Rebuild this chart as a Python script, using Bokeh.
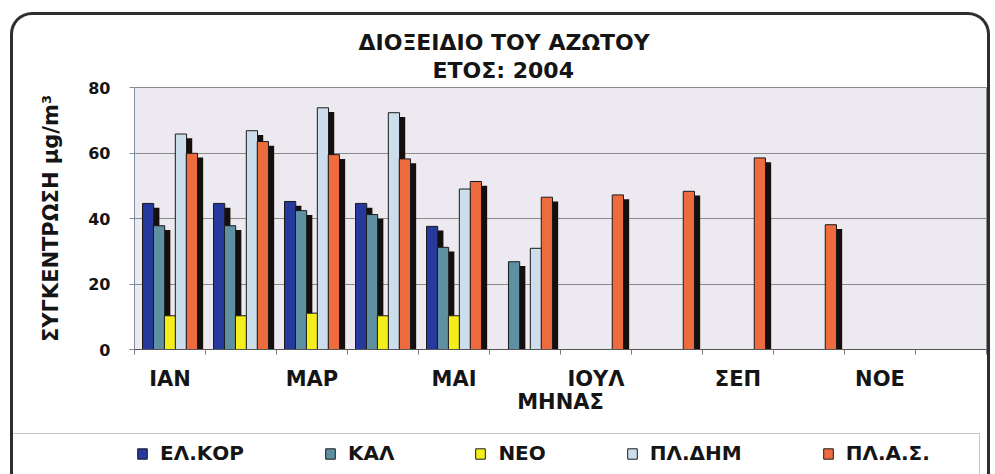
import math
from bokeh.plotting import figure
from bokeh.layouts import column
from bokeh.models import (ColumnDataSource, Range1d, FixedTicker, Legend, LegendItem,
                          Title, InlineStyleSheet)
from bokeh.embed import file_html
from bokeh.resources import INLINE

nan = float("nan")

# ---------------- data ----------------
months = ["ΙΑΝ", "ΦΕΒ", "ΜΑΡ", "ΑΠΡ", "ΜΑΙ", "ΙΟΥΝ", "ΙΟΥΛ", "ΑΥΓ", "ΣΕΠ", "ΟΚΤ", "ΝΟΕ", "ΔΕΚ"]
series_names = ["ΕΛ.ΚΟΡ", "ΚΑΛ", "ΝΕΟ", "ΠΛ.ΔΗΜ", "ΠΛ.Α.Σ."]
el_kor = [44.6, 44.6, 45.2, 44.6, 37.6, nan, nan, nan, nan, nan, nan, nan]
kal    = [37.8, 37.8, 42.4, 41.2, 31.2, 26.8, nan, nan, nan, nan, nan, nan]
neo    = [10.3, 10.3, 11.1, 10.3, 10.3, nan, nan, nan, nan, nan, nan, nan]
pl_dim = [65.8, 66.8, 73.8, 72.3, 49.0, 30.9, nan, nan, nan, nan, nan, nan]
pl_as  = [59.9, 63.5, 59.5, 58.2, 51.3, 46.5, 47.2, 48.3, 58.5, 38.1, nan, nan]
y_ticks = [0, 20, 40, 60, 80]

title_1 = "ΔΙΟΞΕΙΔΙΟ ΤΟΥ ΑΖΩΤΟΥ"
title_2 = "ΕΤΟΣ: 2004"
x_title = "ΜΗΝΑΣ"
y_title = "ΣΥΓΚΕΝΤΡΩΣΗ μg/m³"

# ---------------- style ----------------
colors = ["#26399C", "#5E90A2", "#F4EE1A", "#CCDDEB", "#EE6B3E"]
FONT = "DejaVu Sans"
TXT = "#151515"
pitch = 0.154
bar_w = 0.158
shadow_dx = 0.08
shadow_dy = 1.3

n = len(months)
centers = [i + 0.5 for i in range(n)]          # month slot centres on the x scale
all_series = [el_kor, kal, neo, pl_dim, pl_as]
data = {"xc": centers}
for i, s in enumerate(all_series):
    off = (i - 2) * pitch
    data[f"x{i}"] = [c + off for c in centers]
    data[f"xs{i}"] = [c + off + shadow_dx for c in centers]
    data[f"s{i}"] = s
    data[f"sh{i}"] = [v - shadow_dy if not math.isnan(v) else nan for v in s]
source = ColumnDataSource(data)

W, H_MAIN, H_LEG = 993, 432, 40

# ---------------- main chart ----------------
p = figure(x_range=Range1d(0, n), y_range=Range1d(0, 80),
           width=W, height=H_MAIN, output_backend="svg", toolbar_location=None,
           min_border_left=134, min_border_right=7, min_border_top=87, min_border_bottom=83)
p.background_fill_color = "#ECEAF0"
p.border_fill_color = None
p.outline_line_color = "#8C8C8C"
p.outline_line_width = 1

for i in range(5):
    p.vbar(x=f"xs{i}", top=f"sh{i}", bottom=0, width=bar_w, source=source,
           fill_color="#140F0C", line_color=None)
    p.vbar(x=f"x{i}", top=f"s{i}", bottom=0, width=bar_w, source=source,
           fill_color=colors[i], line_color="#1A1A1A", line_width=1)

p.yaxis.ticker = FixedTicker(ticks=y_ticks)
p.ygrid.ticker = FixedTicker(ticks=y_ticks)
p.ygrid.grid_line_color = "#8A8A8A"
p.ygrid.grid_line_width = 1
p.xgrid.grid_line_color = None

p.xaxis.ticker = FixedTicker(ticks=centers[::2], minor_ticks=list(range(n + 1)))
p.xaxis.major_label_overrides = {c: m for c, m in zip(centers, months)}

for ax in (p.xaxis[0], p.yaxis[0]):
    ax.major_label_text_font = FONT
    ax.major_label_text_font_style = "bold"
    ax.major_label_text_color = TXT
    ax.axis_label_text_font = FONT
    ax.axis_label_text_font_style = "bold"
    ax.axis_label_text_color = TXT

p.yaxis.major_label_text_font_size = "16px"
p.yaxis.axis_line_color = "#7F8FA0"
p.yaxis.major_tick_line_color = "#7F8FA0"
p.yaxis.major_tick_in = 0
p.yaxis.major_tick_out = 5
p.yaxis.minor_tick_line_color = None
p.yaxis.major_label_standoff = 19
p.yaxis.axis_label = y_title
p.yaxis.axis_label_text_font_size = "21px"
p.yaxis.axis_label_standoff = 22

p.xaxis.major_label_text_font_size = "21px"
p.xaxis.axis_line_color = "#555555"
p.xaxis.major_tick_line_color = None
p.xaxis.major_tick_out = 0
p.xaxis.major_tick_in = 0
p.xaxis.minor_tick_line_color = "#777777"
p.xaxis.minor_tick_out = 5
p.xaxis.minor_tick_in = 0
p.xaxis.major_label_standoff = 12
p.xaxis.axis_label = x_title
p.xaxis.axis_label_text_font_size = "21px"
p.xaxis.axis_label_standoff = -4

p.add_layout(Title(text=title_2, align="left", offset=298, standoff=6, vertical_align="top",
                   text_font=FONT, text_font_style="bold", text_font_size="22px",
                   text_color=TXT), "above")
p.add_layout(Title(text=title_1, align="left", offset=224, standoff=0,
                   text_font=FONT, text_font_style="bold", text_font_size="22px",
                   text_color=TXT), "above")

# ---------------- legend strip (key glyphs come from the same data, outside its view) ----------------
lf = figure(x_range=Range1d(0, n), y_range=Range1d(1000, 1001),
            width=W, height=H_LEG, output_backend="svg", toolbar_location=None,
            x_axis_type=None, y_axis_type=None,
            min_border_left=0, min_border_right=0, min_border_top=0, min_border_bottom=0)
lf.background_fill_color = None
lf.border_fill_color = None
lf.outline_line_color = None
lf.grid.visible = False
key_renderers = []
for i in range(5):
    r = lf.vbar(x=f"x{i}", top=f"s{i}", bottom=0, width=bar_w, source=source,
                fill_color=colors[i], line_color="#1A1A1A", line_width=1)
    key_renderers.append(r)

legend = Legend(items=[LegendItem(label=nm, renderers=[r]) for nm, r in zip(series_names, key_renderers)],
                orientation="horizontal", location=(2, 7),
                glyph_width=12, glyph_height=13, label_standoff=12, spacing=80,
                padding=0, margin=0, border_line_color=None, background_fill_alpha=0,
                label_text_font=FONT, label_text_font_style="bold",
                label_text_font_size="20px", label_text_color=TXT, label_height=20)
lf.add_layout(legend, "center")

layout = column(p, lf, spacing=0)

# rounded outer frame and legend separator (pure decoration, CSS)
layout.stylesheets = [InlineStyleSheet(css="""
:host::after { content: ""; position: absolute; left: 10px; top: 12px; width: 980px; height: 462px;
  border: 3px solid #2E2E2E; border-bottom: none; border-radius: 22px 22px 0 0; box-sizing: border-box;
  pointer-events: none; z-index: 100; }
:host::before { content: ""; position: absolute; left: 10px; top: 433px; width: 970px; height: 41px;
  border-top: 1.5px solid #C6C6C6; border-right: 1.5px solid #C6C6C6; box-sizing: border-box;
  pointer-events: none; z-index: 99; }
""")]

open("out.html", "w").write(file_html(layout, INLINE))
